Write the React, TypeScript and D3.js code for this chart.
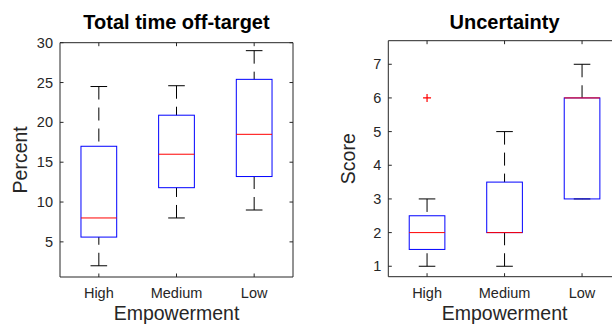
import React from 'react';
import {scaleBand, scaleLinear} from 'd3';

const categories = ['High', 'Medium', 'Low'];

// Total time off-target (percent)
const offLower = [2, 8, 9];
const offQ1 = [5.6, 11.8, 13.2];
const offMedian = [8, 16, 18.5];
const offQ3 = [17, 20.9, 25.4];
const offUpper = [24.5, 24.6, 29];
const offOutliers: number[][] = [[], [], []];
const offTicks = [5, 10, 15, 20, 25, 30];

// Uncertainty (score)
const unLower = [1, 1, 3];
const unQ1 = [1.5, 2, 3];
const unMedian = [2, 2, 6];
const unQ3 = [2.5, 3.5, 6];
const unUpper = [3, 5, 7];
const unOutliers: number[][] = [[6], [], []];
const unTicks = [1, 2, 3, 4, 5, 6, 7];

const FONT = '"Liberation Sans", Arial, Helvetica, sans-serif';
const AXIS = '#262626';

const BoxPanel = ({x0, x1, y0, y1, domain, ticks, title, yLabel, stats, clipId}) => {
    const xScale = scaleBand().domain(categories).range([x0, x1]).paddingInner(0).paddingOuter(0);
    const yScale = scaleLinear().domain(domain).range([y1, y0]);
    const step = xScale.bandwidth();
    const boxHalf = step * 0.23;
    const capHalf = step * 0.107;
    const tickLen = 3.5;
    const cx = (d) => xScale(d) + step / 2;

    return (
        <g>
            <clipPath id={clipId}>
                <rect x={x0 - 1} y={y0 - 1} width={Math.min(x1, 612) - x0 + 2} height={y1 - y0 + 2}/>
            </clipPath>
            <text x={(x0 + x1) / 2} y={29} textAnchor="middle" fontFamily={FONT} fontWeight="bold"
                  fontSize={20} fill="#000">{title}</text>

            {/* axes box */}
            <g stroke={AXIS} strokeWidth={1} fill="none">
                <line x1={x0} x2={x0} y1={y0} y2={y1}/>
                <line x1={x0} x2={x1} y1={y1} y2={y1}/>
                <line x1={x0} x2={x1} y1={y0} y2={y0}/>
                <line x1={x1} x2={x1} y1={y0} y2={y1}/>
                {ticks.map(t => (
                    <g key={t}>
                        <line x1={x0} x2={x0 + tickLen} y1={yScale(t)} y2={yScale(t)}/>
                        <line x1={x1} x2={x1 - tickLen} y1={yScale(t)} y2={yScale(t)}/>
                    </g>
                ))}
                {categories.map(c => (
                    <g key={c}>
                        <line x1={cx(c)} x2={cx(c)} y1={y1} y2={y1 - tickLen}/>
                        <line x1={cx(c)} x2={cx(c)} y1={y0} y2={y0 + tickLen}/>
                    </g>
                ))}
            </g>

            {/* tick labels */}
            {ticks.map(t => (
                <text key={t} x={x0 - 7} y={yScale(t)} dy="0.35em" textAnchor="end" fontFamily={FONT}
                      fontSize={14.5} fill={AXIS}>{t}</text>
            ))}
            {categories.map(c => (
                <text key={c} x={cx(c)} y={297.5} textAnchor="middle" fontFamily={FONT} fontSize={14.5}
                      fill={AXIS}>{c}</text>
            ))}
            <text x={(x0 + x1) / 2} y={319.5} textAnchor="middle" fontFamily={FONT} fontSize={19.5}
                  fill={AXIS}>Empowerment</text>
            <text transform={`translate(${x0 - 33},${(y0 + y1) / 2}) rotate(-90)`} textAnchor="middle"
                  fontFamily={FONT} fontSize={19.5} fill={AXIS}>{yLabel}</text>

            {/* boxes */}
            <g clipPath={`url(#${clipId})`}>
                {categories.map((c, i) => {
                    const x = cx(c);
                    return (
                        <g key={c}>
                            <line x1={x} x2={x} y1={yScale(stats.upper[i])} y2={yScale(stats.q3[i])}
                                  stroke="#000" strokeDasharray="13,8"/>
                            <line x1={x} x2={x} y1={yScale(stats.lower[i])} y2={yScale(stats.q1[i])}
                                  stroke="#000" strokeDasharray="13,8"/>
                            <line x1={x - capHalf} x2={x + capHalf} y1={yScale(stats.upper[i])}
                                  y2={yScale(stats.upper[i])} stroke="#000"/>
                            <line x1={x - capHalf} x2={x + capHalf} y1={yScale(stats.lower[i])}
                                  y2={yScale(stats.lower[i])} stroke="#000"/>
                            <rect x={x - boxHalf} width={boxHalf * 2} y={yScale(stats.q3[i])}
                                  height={yScale(stats.q1[i]) - yScale(stats.q3[i])} fill="none" stroke="#0000ff"/>
                            <line x1={x - boxHalf} x2={x + boxHalf} y1={yScale(stats.median[i])}
                                  y2={yScale(stats.median[i])} stroke="#ff0000"/>
                            {stats.outliers[i].map((o, j) => (
                                <path key={j} d={`M${x - 4},${yScale(o)}H${x + 4}M${x},${yScale(o) - 4}V${yScale(o) + 4}`}
                                      stroke="#ff0000" strokeWidth={1.2}/>
                            ))}
                        </g>
                    );
                })}
            </g>
        </g>
    );
};

export default function App() {
    return (
        <svg width={612} height={324} style={{position: 'absolute', left: 0, top: 0, background: '#fff'}}>
            <rect width={612} height={324} fill="#fff"/>
            <BoxPanel x0={60} x1={293} y0={42.7} y1={277} domain={[0.59, 30]} ticks={offTicks}
                      title="Total time off-target" yLabel="Percent" clipId="clipA"
                      stats={{lower: offLower, q1: offQ1, median: offMedian, q3: offQ3, upper: offUpper, outliers: offOutliers}}/>
            <BoxPanel x0={388.3} x1={620.8} y0={40.7} y1={276.7} domain={[0.69, 7.7]} ticks={unTicks}
                      title="Uncertainty" yLabel="Score" clipId="clipB"
                      stats={{lower: unLower, q1: unQ1, median: unMedian, q3: unQ3, upper: unUpper, outliers: unOutliers}}/>
        </svg>
    );
}
